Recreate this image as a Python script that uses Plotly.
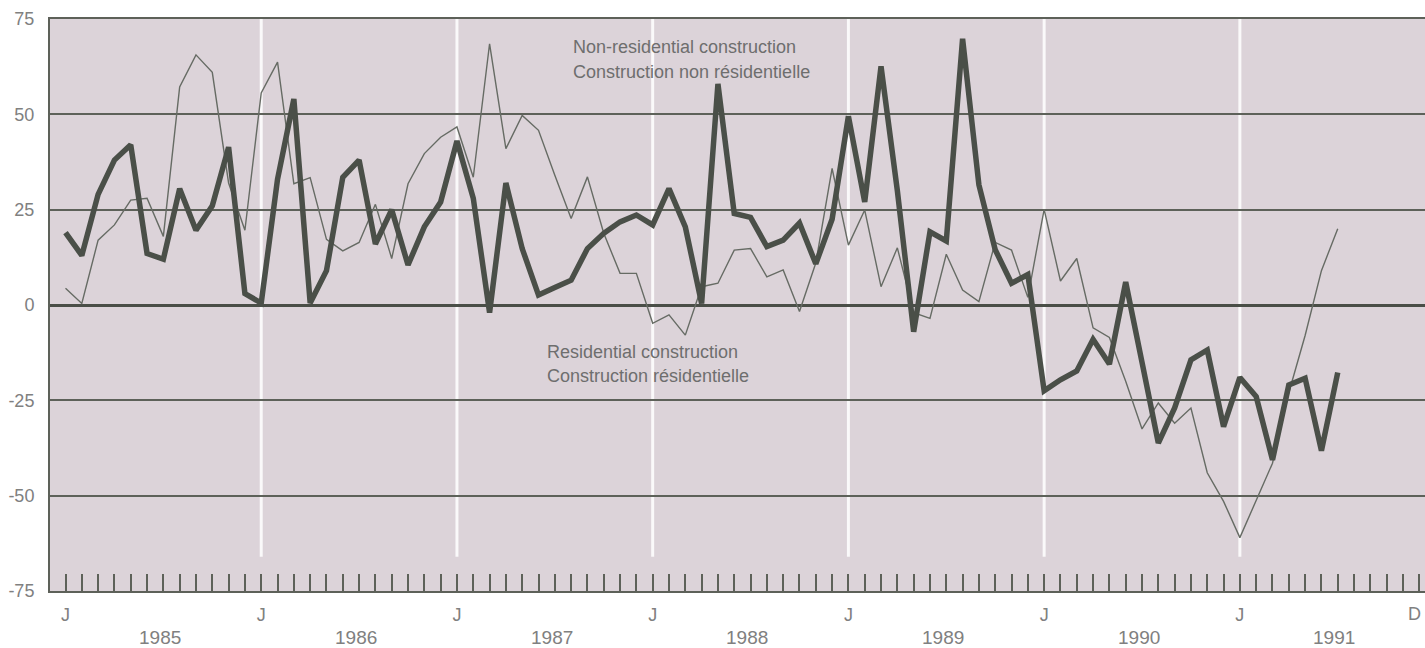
import plotly.graph_objects as go

# Monthly index: 0 = January 1985
months = list(range(79))

non_residential = [19, 13, 29, 38, 42, 13.5, 12, 30.5, 19.6, 26,
                   41.4, 3, 0.5, 33, 54, 0.5, 9, 33.5, 38, 16,
                   25, 10.5, 20.5, 27, 43, 28, -2, 32, 14.8, 2.6,
                   4.6, 6.5, 14.8, 18.8, 21.8, 23.6, 21, 30.5, 20.5, 0.4,
                   58, 24, 23, 15.3, 17, 21.5, 10.8, 22.5, 49.5, 27,
                   62.6, 30, -7, 19.2, 16.8, 69.8, 31.5, 14.5, 5.7, 8,
                   -22.5, -19.6, -17.3, -9, -15.5, 6, -15, -36.2, -27, -14.4,
                   -11.8, -31.9, -19, -24, -40.6, -21, -19.2, -38.2, -17.7]

residential = [4.4, 0.4, 17, 21, 27.5, 28, 18, 57.2, 65.6, 61,
               32, 19.6, 55.6, 63.7, 31.8, 33.4, 17.2, 14.2, 16.4, 26.4,
               12.2, 31.8, 39.7, 44, 46.7, 33.5, 68.5, 41, 49.7, 45.8,
               34, 22.7, 33.6, 18.8, 8.3, 8.3, -4.8, -2.6, -7.9, 4.8,
               5.7, 14.4, 14.8, 7.4, 9.2, -1.7, 11, 35.8, 15.7, 24.9,
               4.8, 15, -2, -3.5, 13.3, 3.9, 0.9, 16.4, 14.4, 2,
               25.1, 6.3, 12.2, -6, -8.5, -20, -32.5, -25.7, -31, -27,
               -44, -51.5, -61, -51, -41.5, -23, -8, 9, 20]

x_tick_vals = [0, 12, 24, 36, 48, 60, 72]
x_tick_text = ["J", "J", "J", "J", "J", "J", "J"]
last_month_label = "D"
january_lines = [12, 24, 36, 48, 60, 72]
years = ["1985", "1986", "1987", "1988", "1989", "1990", "1991"]
y_tick_vals = [-75, -50, -25, 0, 25, 50, 75]
y_tick_text = ["-75", "-50", "-25", "0", "25", "50", "75"]

GRID = "#5d6159"
FONT = "Liberation Sans, Arial, sans-serif"
TICKFONT = dict(family=FONT, size=18, color="#808080")

fig = go.Figure()
fig.add_trace(go.Scatter(x=months, y=residential, mode="lines",
                         line=dict(color="#666b64", width=1.4),
                         name="Residential construction", hoverinfo="x+y"))
fig.add_trace(go.Scatter(x=months, y=non_residential, mode="lines",
                         line=dict(color="#4a4f48", width=5.5),
                         name="Non-residential construction", hoverinfo="x+y"))

shapes = []
for m in january_lines:
    shapes.append(dict(type="line", xref="x", yref="y", x0=m, x1=m, y0=-66, y1=75,
                       line=dict(color="rgba(255,255,255,0.85)", width=3), layer="below"))

annotations = []
for k, yr in enumerate(years):
    annotations.append(dict(x=12 * k + 5.8, y=-0.082, xref="x", yref="paper",
                            text=yr, showarrow=False, xanchor="center", yanchor="middle",
                            font=dict(family=FONT, size=19, color="#808080")))
annotations.append(dict(x=82.7, y=-0.04, xref="x", yref="paper",
                        text=last_month_label, showarrow=False, xanchor="center",
                        yanchor="middle", font=TICKFONT))

LBL = dict(family=FONT, size=18, color="#6e6e6e")
annotations += [
    dict(x=31.0, y=67.6, xref="x", yref="y", text="Non-residential construction",
         showarrow=False, xanchor="left", yanchor="middle", font=LBL),
    dict(x=31.0, y=61.1, xref="x", yref="y", text="Construction non résidentielle",
         showarrow=False, xanchor="left", yanchor="middle", font=LBL),
    dict(x=29.4, y=-12.2, xref="x", yref="y", text="Residential construction",
         showarrow=False, xanchor="left", yanchor="middle", font=LBL),
    dict(x=29.4, y=-18.6, xref="x", yref="y", text="Construction résidentielle",
         showarrow=False, xanchor="left", yanchor="middle", font=LBL),
]

fig.update_layout(
    width=1425, height=648,
    margin=dict(l=50, r=0, t=19, b=57, autoexpand=False),
    paper_bgcolor="white",
    plot_bgcolor="#dcd3d9",
    showlegend=False,
    shapes=shapes,
    annotations=annotations,
    xaxis=dict(
        range=[-0.95, 83.35], automargin=False,
        tickmode="array", tickvals=x_tick_vals, ticktext=x_tick_text,
        ticks="inside", ticklen=17, tickwidth=1.6, tickcolor=GRID,
        minor=dict(tickmode="linear", tick0=0, dtick=1, ticks="inside",
                   ticklen=17, tickwidth=1.6, tickcolor=GRID, showgrid=False),
        showgrid=False, zeroline=False,
        showline=True, linecolor=GRID, linewidth=2, mirror=True,
        tickfont=TICKFONT, ticklabelstandoff=6,
    ),
    yaxis=dict(
        range=[-75, 75], automargin=False,
        tickmode="array", tickvals=y_tick_vals, ticktext=y_tick_text,
        ticks="", showgrid=True, gridcolor=GRID, gridwidth=1.5,
        zeroline=True, zerolinecolor="#4a4e47", zerolinewidth=3,
        showline=True, linecolor=GRID, linewidth=2,
        tickfont=TICKFONT, ticklabelstandoff=10,
    ),
)

fig.write_html("out.html", config={"displayModeBar": False},
               post_script="document.body.style.margin='0px';document.body.style.overflow='hidden';")
